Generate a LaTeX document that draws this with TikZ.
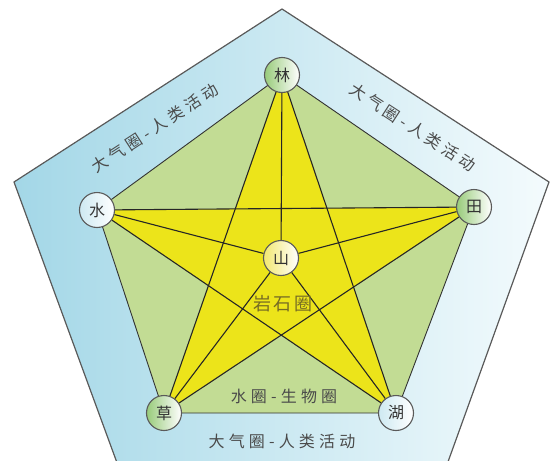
\documentclass[tikz,border=0pt]{standalone}
\usepackage{fontspec}
\newfontfamily\cjk{Noto Sans CJK SC}
\newfontfamily\cjkwide[LetterSpace=26]{Noto Sans CJK SC}
\newfontfamily\cjkrock[LetterSpace=16]{Noto Sans CJK SC}
\usetikzlibrary{calc}
\definecolor{skyL}{HTML}{A3D7E7}
\definecolor{skyR}{HTML}{F4FBFD}
\definecolor{meadow}{HTML}{C2DC94}
\definecolor{starY}{HTML}{ECE41A}
\definecolor{labelgrey}{HTML}{4A4A4A}
\definecolor{rocktext}{HTML}{766C24}
\definecolor{rimgrey}{HTML}{5A5A5A}
\definecolor{leafG}{HTML}{98CB7A}
\definecolor{waterB}{HTML}{B9E0EC}
\definecolor{sunY}{HTML}{F2E870}
\pgfdeclarelayer{bg}
\pgfdeclarelayer{mid}
\pgfsetlayers{bg,mid,main}
\tikzset{
  site/.style={circle, draw=rimgrey, line width=1.1pt, minimum size=35pt,
    inner sep=0pt, font=\cjk\fontsize{16}{16}\selectfont, text=black!80},
  greensite/.style={site, left color=leafG, right color=white},
  bluesite/.style={site, left color=waterB!70, right color=white},
  yellowsite/.style={site, left color=sunY, right color=white},
  tie/.style={draw=black!85, line width=1.1pt},
  bandlabel/.style={font=\cjkwide\fontsize{16}{16}\selectfont, text=labelgrey, inner sep=1pt},
}
\begin{document}
\begin{tikzpicture}[x=1pt,y=-1pt]
\useasboundingbox (0,0) rectangle (550,461);
\clip (0,0) rectangle (550,461);

% node sites
\node[greensite]  (lin)  at (282,75)  {林};
\node[bluesite]   (shui) at (97,210)  {水};
\node[greensite]  (tian) at (474,207) {田};
\node[greensite]  (cao)  at (164,413) {草};
\node[bluesite]   (hu)   at (396,413) {湖};
\node[yellowsite] (shan) at (281,258) {山};

\begin{pgfonlayer}{bg}
  % outer band
  \filldraw[draw=rimgrey, line width=1.2pt, left color=skyL, right color=skyR]
    (282,9) -- (549,182) -- (427,520) -- (138,520) -- (14,182) -- cycle;
  % inner pentagon
  \filldraw[fill=meadow, draw=black!80, line width=0.9pt]
    (lin.center) -- (tian.center) -- (hu.center) -- (cao.center) -- (shui.center) -- cycle;
  % star
  \fill[starY]
    (lin.center) -- (hu.center) -- (shui.center) -- (tian.center) -- (cao.center) -- cycle;
\end{pgfonlayer}

\begin{pgfonlayer}{mid}
  \draw[tie] (lin) -- (cao);
  \draw[tie] (lin) -- (hu);
  \draw[tie] (shui) -- (tian);
  \draw[tie] (shui) -- (hu);
  \draw[tie] (tian) -- (cao);
  \draw[tie] (shan) -- (lin);
  \draw[tie] (shan) -- (shui);
  \draw[tie] (shan) -- (tian);
  \draw[tie] (shan) -- (cao);
  \draw[tie] (shan) -- (hu);
\end{pgfonlayer}

% labels
\node[bandlabel, rotate=33]  (atmL) at (155,128) {大气圈-人类活动};
\node[bandlabel, rotate=-33] (atmR) at (413,127) {大气圈-人类活动};
\node[bandlabel]             (atmB) at (282,441) {大气圈-人类活动};
\node[bandlabel]             (hydro) at (284,396) {水圈-生物圈};
\node[font=\cjkrock\fontsize{18}{18}\selectfont, text=rocktext] (rock) at (283,304) {岩石圈};
\end{tikzpicture}
\end{document}
